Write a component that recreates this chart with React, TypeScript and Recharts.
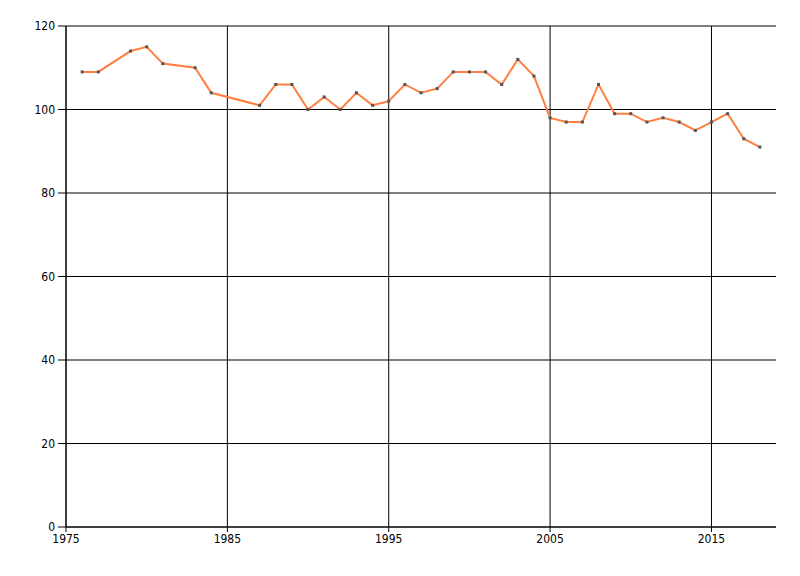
import React from "react";
import { LineChart, Line, XAxis, YAxis, CartesianGrid } from "recharts";

const years = [
  1976, 1977, 1979, 1980, 1981, 1983, 1984, 1987, 1988, 1989, 1990, 1991,
  1992, 1993, 1994, 1995, 1996, 1997, 1998, 1999, 2000, 2001, 2002, 2003,
  2004, 2005, 2006, 2007, 2008, 2009, 2010, 2011, 2012, 2013, 2014, 2015,
  2016, 2017, 2018,
];

const values = [
  109, 109, 114, 115, 111, 110, 104, 101, 106, 106, 100, 103,
  100, 104, 101, 102, 106, 104, 105, 109, 109, 109, 106, 112,
  108, 98, 97, 97, 106, 99, 99, 97, 98, 97, 95, 97,
  99, 93, 91,
];

const xTicks = [1975, 1985, 1995, 2005, 2015];
const yTicks = [0, 20, 40, 60, 80, 100, 120];

const data = years.map((year, i) => ({ year, value: values[i] }));

const font = { fontFamily: "'DejaVu Sans Condensed', 'Liberation Sans', sans-serif", fontSize: 12, fill: "#000" };

const Dot = (props: any) => {
  const { cx, cy } = props;
  if (cx == null || cy == null) return null;
  return <rect x={cx - 1.5} y={cy - 1.5} width={3} height={3} fill="#555" />;
};

const App: React.FC = () => {
  return (
    <div style={{ position: "absolute", left: 0, top: 0, width: 800, height: 576, background: "#fff" }}>
      <LineChart
        width={800}
        height={576}
        data={data}
        margin={{ top: 26, right: 24, bottom: 19, left: 0 }}
      >
        <CartesianGrid stroke="#000" strokeOpacity={1} horizontalValues={yTicks} verticalValues={xTicks} />
        <XAxis
          dataKey="year"
          type="number"
          domain={[1975, 2019]}
          ticks={xTicks}
          height={30}
          stroke="#000"
          tickSize={5}
          tickMargin={2}
          tick={font}
        />
        <YAxis
          type="number"
          domain={[0, 120]}
          ticks={yTicks}
          width={66}
          stroke="#000"
          tickSize={8}
          tickMargin={3}
          tick={font}
        />
        <Line
          type="linear"
          dataKey="value"
          stroke="#ff7f40"
          strokeWidth={2}
          dot={<Dot />}
          activeDot={false}
          isAnimationActive={false}
        />
      </LineChart>
    </div>
  );
};

export default App;
